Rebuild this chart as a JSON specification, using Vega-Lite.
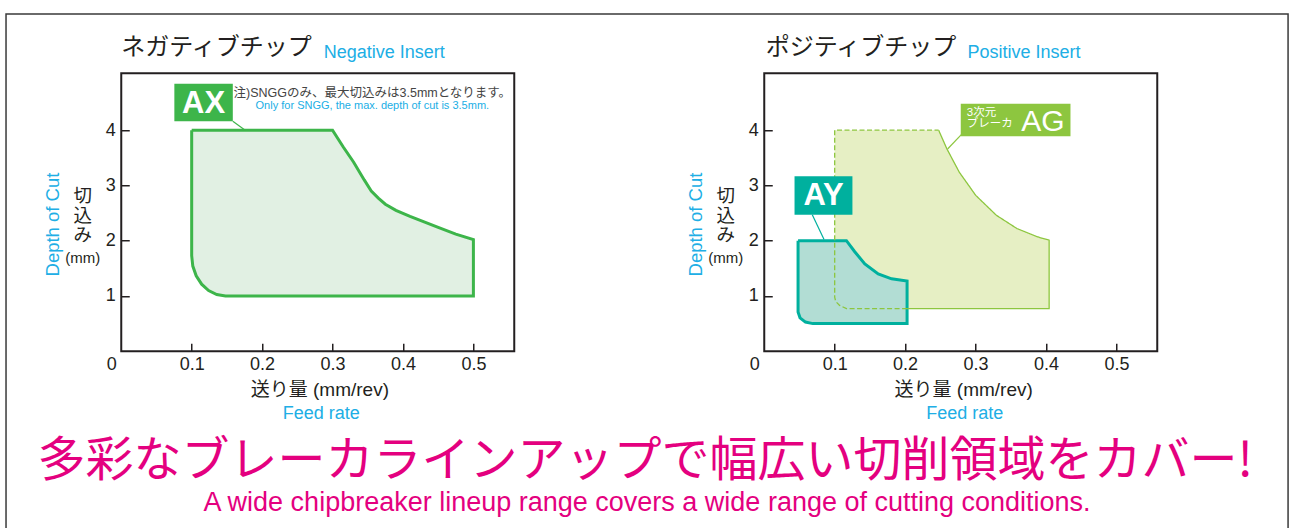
{
  "$schema": "https://vega.github.io/schema/vega-lite/v6.json",
  "background": "white",
  "padding": {"left": 4.25, "top": 11.25, "right": 0, "bottom": 0},
  "bounds": "flush",
  "spacing": 250,
  "config": {
    "view": {"stroke": "#231f20", "strokeWidth": 2},
    "axis": {
      "domain": false, "grid": false, "title": null,
      "tickSize": -8, "tickWidth": 1.5, "tickColor": "#231f20",
      "labelFont": "Liberation Sans", "labelFontSize": 18, "labelColor": "#231f20",
      "labelFlush": false
    },
    "axisX": {"labelPadding": 12},
    "axisY": {"labelPadding": 14},
    "text": {"font": "Liberation Sans, Noto Sans CJK JP"}
  },
  "datasets": {
    "ax": [
      {"seq": 1, "feed": 0.1, "depth": 4.0},
      {"seq": 2, "feed": 0.3, "depth": 4.0},
      {"seq": 3, "feed": 0.315, "depth": 3.7},
      {"seq": 4, "feed": 0.33, "depth": 3.42},
      {"seq": 5, "feed": 0.345, "depth": 3.1},
      {"seq": 6, "feed": 0.355, "depth": 2.9},
      {"seq": 7, "feed": 0.365, "depth": 2.77},
      {"seq": 8, "feed": 0.375, "depth": 2.66},
      {"seq": 9, "feed": 0.39, "depth": 2.55},
      {"seq": 10, "feed": 0.41, "depth": 2.44},
      {"seq": 11, "feed": 0.43, "depth": 2.34},
      {"seq": 12, "feed": 0.45, "depth": 2.24},
      {"seq": 13, "feed": 0.475, "depth": 2.12},
      {"seq": 14, "feed": 0.5, "depth": 2.02},
      {"seq": 15, "feed": 0.5, "depth": 1.0},
      {"seq": 16, "feed": 0.148, "depth": 1.0},
      {"seq": 17, "feed": 0.1356, "depth": 1.025},
      {"seq": 18, "feed": 0.124, "depth": 1.098},
      {"seq": 19, "feed": 0.1141, "depth": 1.214},
      {"seq": 20, "feed": 0.1064, "depth": 1.365},
      {"seq": 21, "feed": 0.1016, "depth": 1.541},
      {"seq": 22, "feed": 0.1, "depth": 1.73},
      {"seq": 23, "feed": 0.1, "depth": 4.0}
    ],
    "ay": [
      {"seq": 1, "feed": 0.048, "depth": 2.0},
      {"seq": 2, "feed": 0.1167, "depth": 2.0},
      {"seq": 3, "feed": 0.1285, "depth": 1.8},
      {"seq": 4, "feed": 0.1428, "depth": 1.58},
      {"seq": 5, "feed": 0.1618, "depth": 1.4},
      {"seq": 6, "feed": 0.1808, "depth": 1.31},
      {"seq": 7, "feed": 0.2028, "depth": 1.27},
      {"seq": 8, "feed": 0.2028, "depth": 0.5},
      {"seq": 9, "feed": 0.069, "depth": 0.5},
      {"seq": 10, "feed": 0.0585, "depth": 0.528},
      {"seq": 11, "feed": 0.0508, "depth": 0.605},
      {"seq": 12, "feed": 0.048, "depth": 0.71},
      {"seq": 13, "feed": 0.048, "depth": 2.0}
    ],
    "ag": [
      {"seq": 1, "line": "solid", "feed": 0.2476, "depth": 4.0},
      {"seq": 2, "line": "solid", "feed": 0.2594, "depth": 3.66},
      {"seq": 3, "line": "solid", "feed": 0.2769, "depth": 3.24},
      {"seq": 4, "line": "solid", "feed": 0.3003, "depth": 2.82},
      {"seq": 5, "line": "solid", "feed": 0.3296, "depth": 2.46},
      {"seq": 6, "line": "solid", "feed": 0.3588, "depth": 2.22},
      {"seq": 7, "line": "solid", "feed": 0.388, "depth": 2.07},
      {"seq": 8, "line": "solid", "feed": 0.4045, "depth": 2.01},
      {"seq": 9, "line": "solid", "feed": 0.4045, "depth": 0.77},
      {"seq": 10, "line": "solid", "feed": 0.2028, "depth": 0.77},
      {"seq": 11, "line": "dashed", "feed": 0.2028, "depth": 0.77},
      {"seq": 12, "line": "dashed", "feed": 0.1167, "depth": 0.77},
      {"seq": 13, "line": "dashed", "feed": 0.107, "depth": 0.83},
      {"seq": 14, "line": "dashed", "feed": 0.1015, "depth": 0.9},
      {"seq": 15, "line": "dashed", "feed": 0.1, "depth": 0.98},
      {"seq": 16, "line": "dashed", "feed": 0.1, "depth": 4.0},
      {"seq": 17, "line": "dashed", "feed": 0.2476, "depth": 4.0}
    ]
  },
  "hconcat": [
    {
      "width": 393,
      "height": 278,
      "layer": [
        {
          "data": {"values": [{}]},
          "mark": {"type": "rect", "filled": false, "stroke": "#3a3a3a", "strokeWidth": 1.5},
          "encoding": {
            "x": {"datum": -0.1636}, "x2": {"datum": 1.6567},
            "y": {"datum": 6.103}, "y2": {"datum": -3.5}
          }
        },
        {
          "data": {"name": "ax"},
          "mark": {"type": "line", "fill": "#e1f0e3", "stroke": "#3db54a", "strokeWidth": 3, "strokeJoin": "miter"},
          "encoding": {
            "x": {"field": "feed", "type": "quantitative",
              "scale": {"domain": [0, 0.558], "nice": false, "zero": false},
              "axis": {
                "values": [0, 0.1, 0.2, 0.3, 0.4, 0.5],
                "labelExpr": "datum.value === 0 ? '0' : format(datum.value, '.1f')",
                "labelOffset": {"condition": {"test": "datum.value === 0", "value": -10}, "value": 0},
                "tickOpacity": {"condition": {"test": "datum.value === 0", "value": 0}, "value": 1}
              }},
            "y": {"field": "depth", "type": "quantitative",
              "scale": {"domain": [0, 5.03], "nice": false, "zero": false},
              "axis": {"values": [1, 2, 3, 4]}},
            "order": {"field": "seq"}
          }
        },
        {
          "data": {"values": [{}]},
          "mark": {"type": "rule", "stroke": "#3db54a", "strokeWidth": 1.2},
          "encoding": {"x": {"datum": 0.1584}, "y": {"datum": 4.16}, "x2": {"datum": 0.176}, "y2": {"datum": 4.0}}
        },
        {
          "data": {"values": [{}]},
          "mark": {"type": "rect", "fill": "#3db54a"},
          "encoding": {"x": {"datum": 0.0754}, "x2": {"datum": 0.1584}, "y": {"datum": 4.84}, "y2": {"datum": 4.16}}
        },
        {
          "data": {"values": [{"t": "AX"}]},
          "mark": {"type": "text", "font": "Liberation Sans", "fontWeight": "bold", "fontSize": 31, "color": "white", "align": "center", "baseline": "middle"},
          "encoding": {"x": {"datum": 0.117}, "y": {"datum": 4.48}, "text": {"field": "t"}}
        },
        {
          "data": {"values": [{"t": "注)SNGGのみ、最大切込みは3.5mmとなります。"}]},
          "mark": {"type": "text", "fontSize": 12.5, "color": "#444444", "align": "center", "baseline": "middle"},
          "encoding": {"x": {"datum": 0.3565}, "y": {"datum": 4.676}, "text": {"field": "t"}}
        },
        {
          "data": {"values": [{"t": "Only for SNGG, the max. depth of cut is 3.5mm."}]},
          "mark": {"type": "text", "font": "Liberation Sans", "fontSize": 11, "color": "#20aee5", "align": "center", "baseline": "middle"},
          "encoding": {"x": {"datum": 0.3565}, "y": {"datum": 4.43}, "text": {"field": "t"}}
        },
        {
          "data": {"values": [{"t": "ネガティブチップ"}]},
          "mark": {"type": "text", "font": "Noto Sans CJK JP", "fontSize": 24, "color": "#231f20", "align": "left", "baseline": "middle"},
          "encoding": {"x": {"datum": 0}, "y": {"datum": 5.485}, "text": {"field": "t"}}
        },
        {
          "data": {"values": [{"t": "Negative Insert"}]},
          "mark": {"type": "text", "font": "Liberation Sans", "fontSize": 18, "color": "#20aee5", "align": "left", "baseline": "middle"},
          "encoding": {"x": {"datum": 0.2874}, "y": {"datum": 5.4}, "text": {"field": "t"}}
        },
        {
          "data": {"values": [{"t": "Depth of Cut"}]},
          "mark": {"type": "text", "font": "Liberation Sans", "fontSize": 18.5, "color": "#20aee5", "align": "center", "baseline": "middle", "angle": 270},
          "encoding": {"x": {"datum": -0.097}, "y": {"datum": 2.293}, "text": {"field": "t"}}
        },
        {
          "data": {"values": [{"t": ["切", "込", "み"]}]},
          "mark": {"type": "text", "font": "Noto Sans CJK JP", "fontSize": 18.5, "lineHeight": 19.5, "color": "#231f20", "align": "center", "baseline": "middle"},
          "encoding": {"x": {"datum": -0.0547}, "y": {"datum": 2.806}, "text": {"field": "t"}}
        },
        {
          "data": {"values": [{"t": "(mm)"}]},
          "mark": {"type": "text", "font": "Liberation Sans Narrow, Liberation Sans", "fontSize": 15, "color": "#231f20", "align": "center", "baseline": "middle"},
          "encoding": {"x": {"datum": -0.0547}, "y": {"datum": 1.69}, "text": {"field": "t"}}
        },
        {
          "data": {"values": [{"t": "送り量 (mm/rev)"}]},
          "mark": {"type": "text", "fontSize": 19, "color": "#231f20", "align": "center", "baseline": "middle"},
          "encoding": {"x": {"datum": 0.282}, "y": {"datum": -0.7}, "text": {"field": "t"}}
        },
        {
          "data": {"values": [{"t": "Feed rate"}]},
          "mark": {"type": "text", "font": "Liberation Sans", "fontSize": 18, "color": "#20aee5", "align": "center", "baseline": "middle"},
          "encoding": {"x": {"datum": 0.284}, "y": {"datum": -1.134}, "text": {"field": "t"}}
        },
        {
          "data": {"values": [{"t": "多彩なブレーカラインアップで幅広い切削領域をカバー!"}]},
          "mark": {"type": "text", "font": "Noto Sans CJK JP", "fontSize": 48, "color": "#e4007f", "align": "center", "baseline": "middle"},
          "encoding": {"x": {"datum": 0.744}, "y": {"datum": -2.0}, "text": {"field": "t"}}
        },
        {
          "data": {"values": [{"t": "A wide chipbreaker lineup range covers a wide range of cutting conditions."}]},
          "mark": {"type": "text", "font": "Liberation Sans", "fontSize": 27, "color": "#e4007f", "align": "center", "baseline": "alphabetic"},
          "encoding": {"x": {"datum": 0.7466}, "y": {"datum": -2.893}, "text": {"field": "t"}}
        }
      ]
    },
    {
      "width": 393,
      "height": 278,
      "layer": [
        {
          "data": {"name": "ag"},
          "mark": {"type": "line", "fill": "#e6efc4", "strokeWidth": 0, "stroke": null},
          "encoding": {
            "x": {"field": "feed", "type": "quantitative",
              "scale": {"domain": [0, 0.558], "nice": false, "zero": false},
              "axis": {
                "values": [0, 0.1, 0.2, 0.3, 0.4, 0.5],
                "labelExpr": "datum.value === 0 ? '0' : format(datum.value, '.1f')",
                "labelOffset": {"condition": {"test": "datum.value === 0", "value": -10}, "value": 0},
                "tickOpacity": {"condition": {"test": "datum.value === 0", "value": 0}, "value": 1}
              }},
            "y": {"field": "depth", "type": "quantitative",
              "scale": {"domain": [0, 5.03], "nice": false, "zero": false},
              "axis": {"values": [1, 2, 3, 4]}},
            "order": {"field": "seq"}
          }
        },
        {
          "data": {"name": "ay"},
          "mark": {"type": "line", "fill": "#b2ddd4", "stroke": "#00b09e", "strokeWidth": 3, "strokeJoin": "miter"},
          "encoding": {
            "x": {"field": "feed", "type": "quantitative"},
            "y": {"field": "depth", "type": "quantitative"},
            "order": {"field": "seq"}
          }
        },
        {
          "data": {"name": "ag"},
          "mark": {"type": "line", "stroke": "#8dc63f", "strokeWidth": 1.3},
          "encoding": {
            "x": {"field": "feed", "type": "quantitative"},
            "y": {"field": "depth", "type": "quantitative"},
            "order": {"field": "seq"},
            "detail": {"field": "line"},
            "strokeDash": {"field": "line", "type": "nominal", "legend": null,
              "scale": {"domain": ["solid", "dashed"], "range": [[1, 0], [5, 2.5]]}}
          }
        },
        {
          "data": {"values": [{}]},
          "mark": {"type": "rule", "stroke": "#00b09e", "strokeWidth": 1.2},
          "encoding": {"x": {"datum": 0.0682}, "y": {"datum": 2.47}, "x2": {"datum": 0.0849}, "y2": {"datum": 2.02}}
        },
        {
          "data": {"values": [{}]},
          "mark": {"type": "rect", "fill": "#00b09e"},
          "encoding": {"x": {"datum": 0.043}, "x2": {"datum": 0.1252}, "y": {"datum": 3.165}, "y2": {"datum": 2.47}}
        },
        {
          "data": {"values": [{"t": "AY"}]},
          "mark": {"type": "text", "font": "Liberation Sans", "fontWeight": "bold", "fontSize": 31, "color": "white", "align": "center", "baseline": "middle"},
          "encoding": {"x": {"datum": 0.0842}, "y": {"datum": 2.80}, "text": {"field": "t"}}
        },
        {
          "data": {"values": [{}]},
          "mark": {"type": "rule", "stroke": "#8dc63f", "strokeWidth": 1.2},
          "encoding": {"x": {"datum": 0.2805}, "y": {"datum": 3.93}, "x2": {"datum": 0.2603}, "y2": {"datum": 3.66}}
        },
        {
          "data": {"values": [{}]},
          "mark": {"type": "rect", "fill": "#8dc63f"},
          "encoding": {"x": {"datum": 0.279}, "x2": {"datum": 0.4348}, "y": {"datum": 4.477}, "y2": {"datum": 3.888}}
        },
        {
          "data": {"values": [{"t": "3次元"}]},
          "mark": {"type": "text", "fontSize": 11.5, "color": "white", "align": "left", "baseline": "middle"},
          "encoding": {"x": {"datum": 0.2875}, "y": {"datum": 4.318}, "text": {"field": "t"}}
        },
        {
          "data": {"values": [{"t": "ブレーカ"}]},
          "mark": {"type": "text", "font": "Noto Sans CJK JP", "fontSize": 11.5, "color": "white", "align": "left", "baseline": "middle"},
          "encoding": {"x": {"datum": 0.2875}, "y": {"datum": 4.116}, "text": {"field": "t"}}
        },
        {
          "data": {"values": [{"t": "AG"}]},
          "mark": {"type": "text", "font": "Liberation Sans", "fontSize": 30, "color": "white", "align": "center", "baseline": "middle"},
          "encoding": {"x": {"datum": 0.3956}, "y": {"datum": 4.15}, "text": {"field": "t"}}
        },
        {
          "data": {"values": [{"t": "ポジティブチップ"}]},
          "mark": {"type": "text", "font": "Noto Sans CJK JP", "fontSize": 24, "color": "#231f20", "align": "left", "baseline": "middle"},
          "encoding": {"x": {"datum": 0.002}, "y": {"datum": 5.485}, "text": {"field": "t"}}
        },
        {
          "data": {"values": [{"t": "Positive Insert"}]},
          "mark": {"type": "text", "font": "Liberation Sans", "fontSize": 18, "color": "#20aee5", "align": "left", "baseline": "middle"},
          "encoding": {"x": {"datum": 0.2885}, "y": {"datum": 5.4}, "text": {"field": "t"}}
        },
        {
          "data": {"values": [{"t": "Depth of Cut"}]},
          "mark": {"type": "text", "font": "Liberation Sans", "fontSize": 18.5, "color": "#20aee5", "align": "center", "baseline": "middle", "angle": 270},
          "encoding": {"x": {"datum": -0.097}, "y": {"datum": 2.293}, "text": {"field": "t"}}
        },
        {
          "data": {"values": [{"t": ["切", "込", "み"]}]},
          "mark": {"type": "text", "font": "Noto Sans CJK JP", "fontSize": 18.5, "lineHeight": 19.5, "color": "#231f20", "align": "center", "baseline": "middle"},
          "encoding": {"x": {"datum": -0.0547}, "y": {"datum": 2.806}, "text": {"field": "t"}}
        },
        {
          "data": {"values": [{"t": "(mm)"}]},
          "mark": {"type": "text", "font": "Liberation Sans Narrow, Liberation Sans", "fontSize": 15, "color": "#231f20", "align": "center", "baseline": "middle"},
          "encoding": {"x": {"datum": -0.0547}, "y": {"datum": 1.69}, "text": {"field": "t"}}
        },
        {
          "data": {"values": [{"t": "送り量 (mm/rev)"}]},
          "mark": {"type": "text", "fontSize": 19, "color": "#231f20", "align": "center", "baseline": "middle"},
          "encoding": {"x": {"datum": 0.2832}, "y": {"datum": -0.7}, "text": {"field": "t"}}
        },
        {
          "data": {"values": [{"t": "Feed rate"}]},
          "mark": {"type": "text", "font": "Liberation Sans", "fontSize": 18, "color": "#20aee5", "align": "center", "baseline": "middle"},
          "encoding": {"x": {"datum": 0.2846}, "y": {"datum": -1.134}, "text": {"field": "t"}}
        }
      ]
    }
  ]
}
